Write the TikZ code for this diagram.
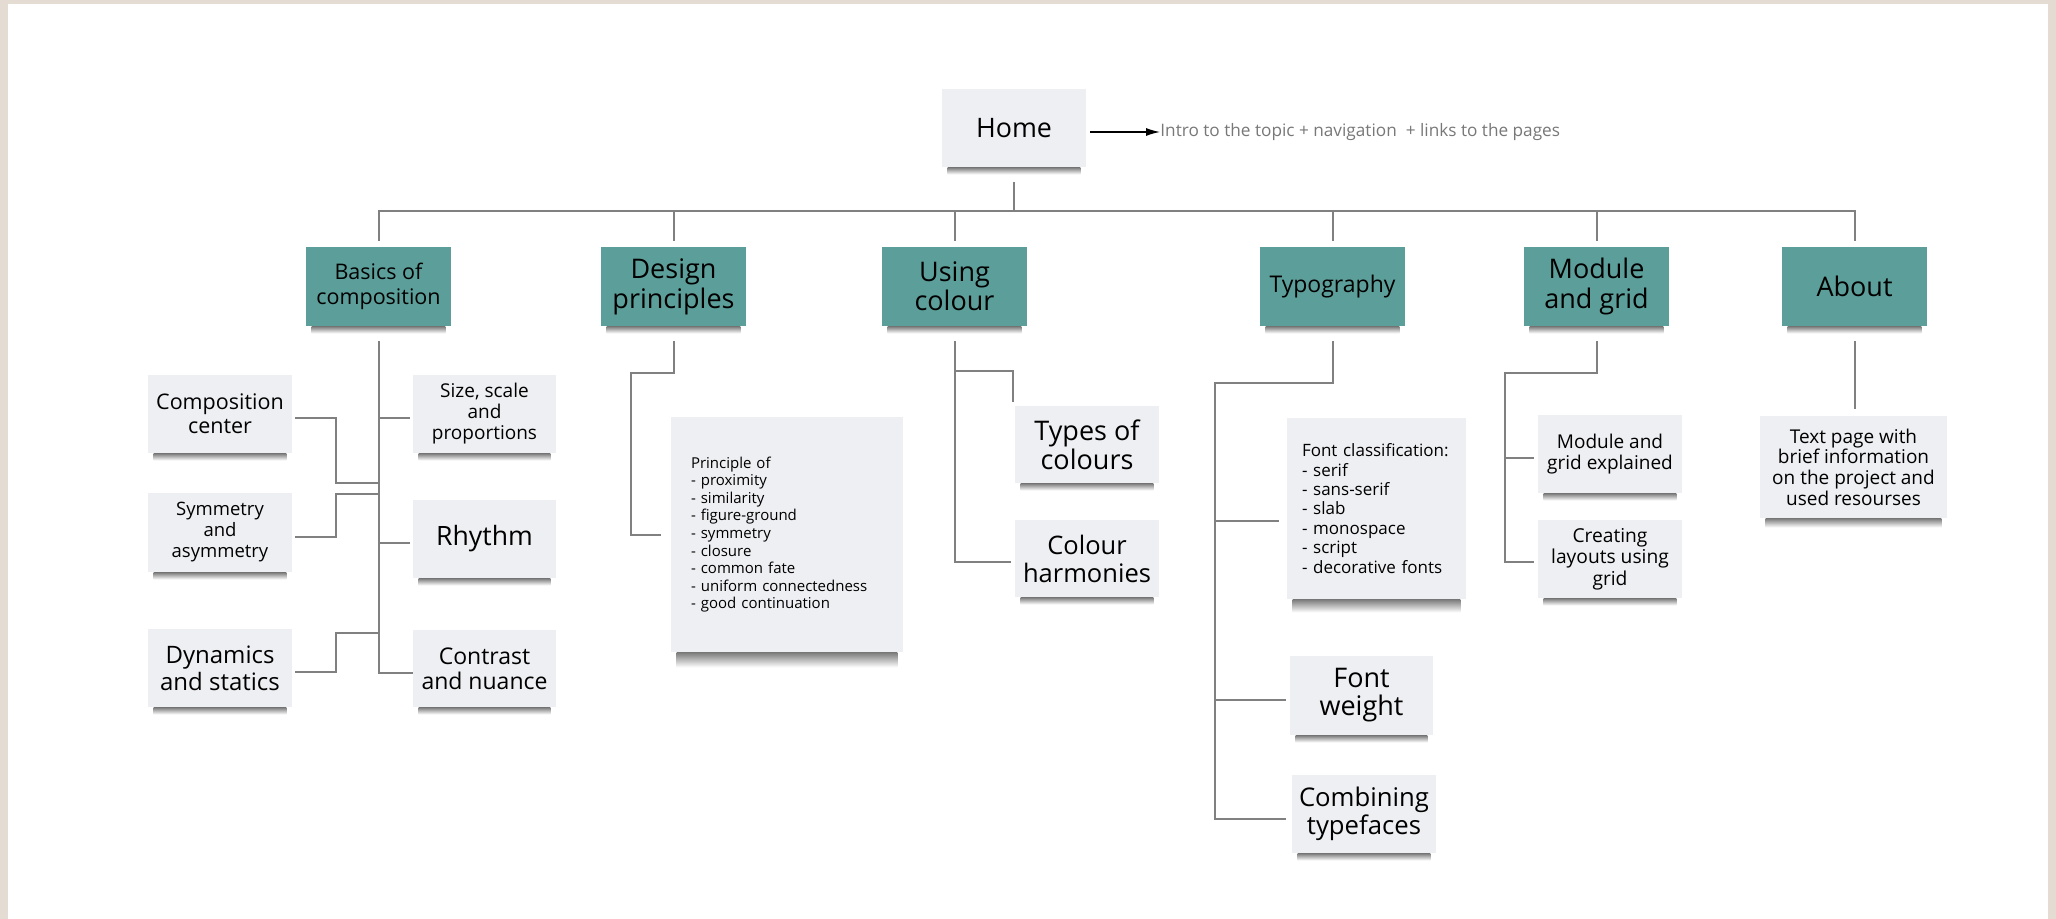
\documentclass[tikz,border=0pt]{standalone}
\usepackage{fontspec}
\setmainfont{Open Sans}
\usetikzlibrary{calc,arrows.meta,fadings}
\definecolor{beige}{RGB}{228,220,211}
\definecolor{boxgray}{RGB}{238,239,242}
\definecolor{tealbox}{RGB}{92,158,153}
\definecolor{linegray}{RGB}{128,128,128}
\definecolor{introgray}{RGB}{120,120,120}
\pgfdeclarehorizontalshading{sidefadeshading}{100bp}{color(0bp)=(pgftransparent!100); color(12bp)=(pgftransparent!0); color(88bp)=(pgftransparent!0); color(100bp)=(pgftransparent!100)}
\pgfdeclarefading{sidefade}{\pgfuseshading{sidefadeshading}}
\newcommand{\fz}[2]{\fontsize{#1}{#2}\selectfont}
\begin{document}
\begin{tikzpicture}[x=0.5pt,y=-0.5pt,
  conn/.style={draw=linegray, line width=1pt},
  wbox/.style={fill=boxgray, inner sep=0pt, align=center, text=black},
  cbox/.style={fill=tealbox, inner sep=0pt, align=center, text=black, minimum width=72.5pt, minimum height=39.5pt},
  listbox/.style={fill=boxgray, inner ysep=0pt, align=left, text=black},
  shadowsh/.style={top color=black!52, bottom color=white, path fading=sidefade}]
\fill[beige] (0,0) rectangle (2056,919);
\fill[white] (8,4) rectangle (2048,919);
\useasboundingbox (0,0) rectangle (2056,919);

% Home
\node[wbox, minimum width=72pt, minimum height=39pt, font=\fz{13.4}{16}] (home) at (1014,128) {Home};
\node[anchor=west, inner sep=0pt, text=introgray, font=\fz{8.6}{10}] (intro) at (1160,132) {Intro to the topic + navigation\ \ + links to the pages};
\draw[line width=0.6pt, -{Latex[length=7pt,width=4pt]}] ($(home.east)+(4,4)$) -- (intro.west);

% Categories
\node[cbox, font=\fz{10.75}{12.5}] (basics) at (378.5,286.5) {Basics of\\composition};
\node[cbox, font=\fz{13.5}{15}] (design) at (673.5,286.5) {Design\\principles};
\node[cbox, font=\fz{13.5}{14.5}] (using) at (954.5,286.5) {Using\\colour};
\node[cbox, font=\fz{11.5}{13}] (typo) at (1332.5,286.5) {Typography};
\node[cbox, font=\fz{13.5}{15}] (module) at (1596.5,286.5) {Module\\and grid};
\node[cbox, font=\fz{13.5}{15}] (about) at (1854.5,286.5) {About};

% Basics subtree
\node[wbox, minimum width=72pt, minimum height=39pt, font=\fz{10.75}{11.8}] (comp) at (220,414) {Composition\\center};
\node[wbox, minimum width=72pt, minimum height=39.5pt, font=\fz{9.25}{10.5}] (sym) at (220,532.5) {Symmetry\\and\\asymmetry};
\node[wbox, minimum width=72pt, minimum height=39pt, font=\fz{12}{13.5}] (dyn) at (220,668) {Dynamics\\and statics};
\node[wbox, minimum width=71.5pt, minimum height=39pt, font=\fz{9.5}{10.5}] (size) at (484.5,414) {Size, scale\\and\\proportions};
\node[wbox, minimum width=71.5pt, minimum height=39pt, font=\fz{13.3}{15}] (rhythm) at (484.5,539) {Rhythm};
\node[wbox, minimum width=71.5pt, minimum height=38.5pt, font=\fz{11.5}{12.5}] (contrast) at (484.5,668.5) {Contrast\\and nuance};

% Design subtree
\node[listbox, inner xsep=10pt, text width=96pt, minimum height=117.5pt, font=\fz{7.5}{8.8}] (princ) at (787,534.5) {Principle of\\- proximity\\- similarity\\- figure-ground\\- symmetry\\- closure\\- common fate\\- uniform connectedness\\- good continuation};

% Colour subtree
\node[wbox, minimum width=72pt, minimum height=38.5pt, font=\fz{13.5}{14.5}] (types) at (1087,444.5) {Types of\\colours};
\node[wbox, minimum width=72pt, minimum height=38.5pt, font=\fz{12.75}{14}] (harm) at (1087,558.5) {Colour\\harmonies};

% Typography subtree
\node[listbox, inner xsep=7.5pt, text width=74.5pt, minimum height=90.5pt, font=\fz{8.5}{9.7}] (fontc) at (1376.5,508.5) {Font classification:\\- serif\\- sans-serif\\- slab\\- monospace\\- script\\- decorative fonts};
\node[wbox, minimum width=71.5pt, minimum height=39.5pt, font=\fz{13.5}{14}] (fweight) at (1361.5,695.5) {Font\\weight};
\node[wbox, minimum width=72pt, minimum height=39pt, font=\fz{12.85}{14}] (combine) at (1364,814) {Combining\\typefaces};

% Module subtree
\node[wbox, minimum width=72pt, minimum height=39pt, font=\fz{9.5}{10.8}] (modexp) at (1610,454) {Module and\\grid explained};
\node[wbox, minimum width=72pt, minimum height=39pt, font=\fz{9.6}{10.7}] (creating) at (1610,559) {Creating\\layouts using\\grid};

% About subtree
\node[wbox, minimum width=93.5pt, minimum height=51pt, font=\fz{9.5}{10.35}] (textpage) at (1853.5,467) {Text page with\\brief information\\on the project and\\used resourses};

% Shadows
\foreach \n/\h in {home/7,basics/7,design/7,using/7,typo/7,module/7,about/7,comp/7,sym/7,dyn/7,size/7,rhythm/7,contrast/7,types/7,harm/7,fweight/7,combine/7,modexp/7,creating/7,textpage/9,princ/15,fontc/13}{
  \shade[shadowsh] ($(\n.south west)+(6,0)$) rectangle ($(\n.south east)+(-6,\h)$);
}

% Bus
\coordinate (busy) at (0,211);
\draw[conn, shorten <=7.5pt] (home.south) -- (home.south |- busy);
\draw[conn, shorten <=3pt, shorten >=3pt] (basics.north) -- (basics.north |- busy) -- (about.north |- busy) -- (about.north);
\foreach \n in {design,using,typo,module}{
  \draw[conn, shorten >=3pt] (\n.north |- busy) -- (\n.north);
}

% Basics connectors
\draw[conn, shorten <=7.5pt] (basics.south) |- ($(contrast.west)+(0,4)$);
\coordinate (stemA) at ($(basics.south)+(0,157)$);
\coordinate (stemB) at ($(basics.south)+(0,168)$);
\coordinate (stemC) at ($(basics.south)+(0,307)$);
\coordinate (compj) at ($(comp.east)+(0,4)$);
\coordinate (symj) at ($(sym.east)+(0,4.5)$);
\coordinate (dynj) at ($(dyn.east)+(0,4)$);
\coordinate (sizej) at ($(size.west)+(0,4)$);
\coordinate (rhyj) at ($(rhythm.west)+(0,4)$);
\draw[conn, shorten <=1.5pt] (compj) -- ++(44,0) |- (stemA);
\draw[conn, shorten <=1.5pt] (symj) -- ++(44,0) |- (stemB);
\draw[conn, shorten <=1.5pt] (dynj) -- ++(44,0) |- (stemC);
\draw[conn, shorten <=1.5pt] (sizej) -- (sizej -| basics.south);
\draw[conn, shorten <=1.5pt] (rhyj) -- (rhyj -| basics.south);

% Design connector
\coordinate (dbend) at (631,373);
\draw[conn, shorten <=7.5pt, shorten >=5pt] (design.south) |- (dbend) |- (princ.west);

% Colour connectors
\coordinate (ubend) at (1013,371);
\draw[conn, shorten <=7.5pt, shorten >=2pt] (using.south) |- (ubend) -- (ubend |- types.north);
\draw[conn, shorten <=7.5pt, shorten >=2pt] (using.south) |- ($(harm.west)+(0,3.5)$);

% Typography connectors
\coordinate (tbend) at (1215,383);
\draw[conn, shorten <=7.5pt, shorten >=3pt] (typo.south) |- (tbend) |- ($(combine.west)+(0,5)$);
\coordinate (fcj) at ($(fontc.west)+(0,12.5)$);
\coordinate (fwj) at ($(fweight.west)+(0,4.5)$);
\draw[conn, shorten <=4pt] (fcj) -- (fcj -| tbend);
\draw[conn, shorten <=2pt] (fwj) -- (fwj -| tbend);

% Module connectors
\coordinate (mbend) at (1505,373);
\draw[conn, shorten <=7.5pt, shorten >=2pt] (module.south) |- (mbend) |- ($(creating.west)+(0,3)$);
\coordinate (mej) at ($(modexp.west)+(0,4)$);
\draw[conn, shorten <=2pt] (mej) -- (mej -| mbend);

% About connector
\draw[conn, shorten <=7.5pt, shorten >=3.5pt] (about.south) -- (about.south |- textpage.north);
\end{tikzpicture}
\end{document}
